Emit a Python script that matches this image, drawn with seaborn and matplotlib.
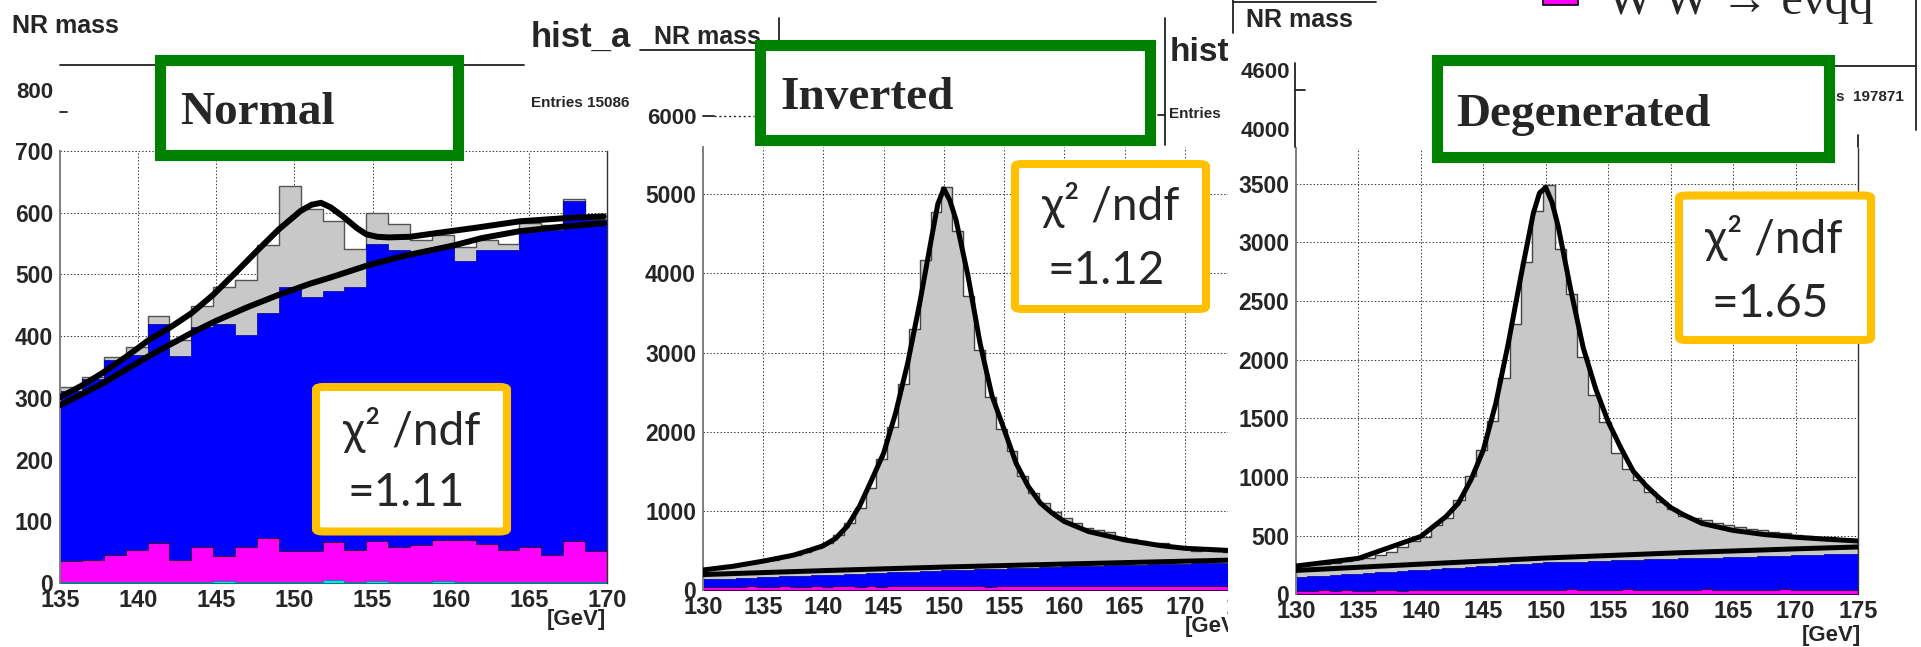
import numpy as np
import pandas as pd
import matplotlib
matplotlib.use("Agg")
import matplotlib.pyplot as plt
import seaborn as sns
from matplotlib.patches import Rectangle, FancyBboxPatch
from matplotlib.lines import Line2D
from matplotlib.ticker import MultipleLocator

W, H = 1921, 647

# ---------------- data ----------------
# "Normal": 25 bins of 1.4 GeV, stacked tops (gray total, blue bkg, magenta WW, cyan)
normal_range = (135, 170)
normal_width = 1.4
normal_total = [318, 333, 367, 383, 433, 394, 449, 479, 491, 547, 644, 606, 587,
                542, 600, 581, 556, 564, 545, 555, 550, 583, 580, 623, 590]
normal_bkg = [311, 331, 361, 370, 420, 368, 415, 420, 402, 437, 479, 464, 473,
              479, 549, 540, 535, 545, 522, 540, 540, 576, 572, 619, 588]
normal_ww = [35, 38, 46, 54, 65, 37, 59, 43, 59, 73, 52, 52, 67,
             53, 68, 58, 61, 69, 69, 64, 53, 58, 46, 68, 52]
normal_z = [2, 2, 2, 2, 2, 2, 2, 3, 2, 2, 2, 2, 5, 2, 3, 2, 2, 3, 2, 2, 2, 2, 2, 2, 2]

normal_fit_x = [135, 136.4, 137.7, 139.2, 140.7, 142.1, 143.4, 144.8, 146.2, 147.6, 149,
                150.4, 151.1, 151.7, 152.3, 153.1, 154, 154.6, 155.3, 156, 157.4,
                158.8, 161.7, 164.4, 167.2, 169.8]
normal_fit_y = [301, 320, 340, 366, 394, 415, 437, 467, 502, 538, 573,
                603, 613, 616, 609, 594, 575, 565, 561, 560, 561,
                566, 576, 586, 591, 594]
normal_bfit_x = [135, 137.7, 140.7, 143.4, 145, 147, 149, 151, 152.3, 154.6, 157,
                 160.2, 162, 164.4, 167, 169.8]
normal_bfit_y = [288, 323, 368, 405, 425, 447, 467, 485, 495, 514, 530,
                 547, 559, 570, 577, 583]

# "Inverted": 50 bins of 0.9 GeV
inv_range = (130, 175)
inv_width = 0.9
inv_total = [255, 275, 290, 315, 335, 365, 385, 420, 445, 480, 530, 590, 700,
             850, 1040, 1290, 1660, 2060, 2600, 3300, 4170, 4770, 5090, 4540,
             3720, 3030, 2440, 2030, 1760, 1440, 1225, 1105, 990, 905, 845, 780,
             760, 735, 675, 640, 615, 590, 600, 550, 525, 490, 505, 495, 485, 470]
inv_bkg = [135, 141, 144, 149, 154, 161, 164, 172, 174, 179, 185, 189, 193, 200,
           206, 211, 216, 225, 226, 233, 237, 244, 250, 253, 259, 265, 268, 270,
           276, 279, 281, 288, 292, 297, 300, 305, 307, 311, 316, 318, 320, 324,
           327, 330, 331, 336, 338, 341, 343, 345]
inv_ww = [42, 40, 44, 41, 45, 43, 40, 46, 44, 42, 47, 44, 45, 48, 43, 46, 44, 47,
          49, 45, 46, 50, 47, 45, 48, 46, 44, 49, 47, 52, 46, 48, 45, 50, 47, 49,
          53, 46, 48, 51, 47, 49, 46, 52, 48, 45, 50, 47, 49, 46]
inv_fit_x = [130, 132.5, 135, 137.5, 139, 140, 141, 142, 143, 144, 145, 146, 147,
             148, 149, 149.5, 150, 150.5, 151, 152, 153, 154, 155, 156, 157, 158,
             159, 160, 162, 165, 168, 170, 175]
inv_fit_y = [253, 300, 365, 440, 510, 560, 650, 810, 1060, 1390, 1730, 2240, 2870,
             3630, 4470, 4880, 5070, 4920, 4680, 3970, 3120, 2450, 2030, 1600,
             1310, 1100, 970, 865, 739, 633, 561, 527, 490]
inv_bfit_x = [130, 140, 150, 160, 170, 175]
inv_bfit_y = [195, 245, 290, 328, 364, 382]

# "Degenerated": 50 bins of 0.9 GeV
deg_range = (130, 175)
deg_width = 0.9
deg_total = [245, 255, 262, 270, 282, 300, 312, 335, 360, 400, 455, 490, 590,
             650, 800, 1010, 1230, 1475, 1840, 2300, 2830, 3270, 3490, 2940,
             2555, 2020, 1700, 1470, 1205, 1065, 975, 870, 785, 730, 670, 650,
             635, 610, 590, 575, 555, 545, 535, 520, 505, 500, 480, 490, 470, 465]
deg_bkg = [151, 156, 160, 168, 172, 178, 183, 190, 193, 200, 205, 211, 216, 222,
           228, 232, 240, 244, 250, 256, 260, 268, 273, 275, 279, 280, 285, 287,
           290, 293, 296, 298, 302, 304, 307, 309, 312, 314, 318, 320, 322, 326,
           327, 330, 333, 335, 337, 340, 342, 344]
deg_ww = [32, 30, 34, 31, 35, 33, 30, 36, 34, 32, 37, 34, 35, 40, 38, 36, 34, 37,
          39, 35, 36, 40, 37, 35, 45, 36, 34, 39, 37, 42, 36, 38, 35, 40, 37, 39,
          43, 36, 38, 41, 37, 39, 36, 42, 38, 35, 40, 37, 39, 36]
deg_fit_x = [130, 135, 140, 142, 143, 144, 145, 146, 147, 148, 149, 149.5, 150,
             150.5, 151, 152, 153, 154, 155, 156, 157, 158, 159, 160, 161, 162.5,
             165, 167.5, 170, 172.5, 175]
deg_fit_y = [242, 307, 494, 662, 776, 974, 1230, 1628, 2139, 2707, 3246, 3420,
             3465, 3340, 3132, 2593, 2100, 1750, 1470, 1250, 1050, 930, 830, 740,
             680, 605, 545, 510, 487, 470, 455]
deg_bfit_x = [130, 140, 150, 160, 170, 175]
deg_bfit_y = [204, 258, 310, 352, 388, 404]

titles = ["Normal", "Inverted", "Degenerated"]
chi2_values = ["=1.11", "=1.12", "=1.65"]

# ---------------- style ----------------
sns.set_style("white")
plt.rcParams["font.family"] = ["Liberation Sans", "DejaVu Sans"]
plt.rcParams["font.weight"] = "bold"

GRAY, BLUE, MAG, CYAN = "#c8c8c8", "#0000ff", "#ff00ff", "#00e5e5"


def fx(x):
    return x / W


def fy(y):
    return 1 - y / H


def add_axes(left, right, top, bottom, z):
    ax = fig.add_axes([fx(left), fy(bottom), (right - left) / W, (bottom - top) / H])
    ax.set_zorder(z)
    return ax


def stack(ax, rng, width, tops, color, ec, lw):
    centers = rng[0] + width * (np.arange(len(tops)) + 0.5)
    df = pd.DataFrame({"mass": centers, "entries": tops})
    sns.histplot(data=df, x="mass", weights="entries", binwidth=width, binrange=rng,
                 element="step", fill=True, color=color, edgecolor=ec, linewidth=lw,
                 alpha=1, ax=ax)


def fit(ax, xs, ys, lw):
    sns.lineplot(x=xs, y=ys, ax=ax, color="black", linewidth=lw,
                 solid_capstyle="round", zorder=4)


def style(ax, xlim, ylim, ymaj, ymin, right_spine=True):
    ax.set_xlim(*xlim)
    ax.set_ylim(*ylim)
    ax.xaxis.set_major_locator(MultipleLocator(5))
    ax.yaxis.set_major_locator(MultipleLocator(ymaj))
    ax.yaxis.set_minor_locator(MultipleLocator(ymin))
    ax.grid(True, which="major", color="#3a3a3a", linestyle=(0, (1.5, 2)), linewidth=0.7)
    ax.set_axisbelow(True)
    ax.tick_params(axis="y", which="major", direction="in", length=13.5, width=1.1,
                   color="#7a7a7a", pad=5, labelsize=16.5)
    ax.tick_params(axis="y", which="minor", direction="in", length=5.8, width=1.1,
                   color="#7a7a7a")
    ax.tick_params(axis="x", length=0, pad=4, labelsize=17)
    ax.set_xlabel("")
    ax.set_ylabel("")
    ax.spines["top"].set_visible(False)
    ax.spines["bottom"].set_visible(False)
    ax.spines["left"].set_color("#808080")
    ax.spines["left"].set_linewidth(1.4)
    ax.spines["right"].set_visible(right_spine)
    ax.spines["right"].set_color("#333333")
    ax.spines["right"].set_linewidth(1.0)


def hline(x0, x1, y, z, color="#222222", lw=1.3, ls="-"):
    fig.add_artist(Line2D([fx(x0), fx(x1)], [fy(y), fy(y)], transform=fig.transFigure,
                          color=color, lw=lw, ls=ls, zorder=z))


def vline(x, y0, y1, z, color="#222222", lw=1.3):
    fig.add_artist(Line2D([fx(x), fx(x)], [fy(y0), fy(y1)], transform=fig.transFigure,
                          color=color, lw=lw, zorder=z))


def ftext(x, y, s, z, size, ha="left", **kw):
    fig.text(fx(x), fy(y), s, fontsize=size, ha=ha, va="baseline", zorder=z, **kw)


fig = plt.figure(figsize=(W / 100, H / 100), dpi=100)
fig.patch.set_facecolor("white")

# ---------------- panel 1: Normal ----------------
ax1 = add_axes(60, 607, 151, 583, 0.2)
stack(ax1, normal_range, normal_width, normal_total, GRAY, "#555555", 1.0)
stack(ax1, normal_range, normal_width, normal_bkg, BLUE, "#00008b", 0.5)
stack(ax1, normal_range, normal_width, normal_ww, MAG, "#400040", 0.8)
stack(ax1, normal_range, normal_width, normal_z, CYAN, "#008080", 0.5)
fit(ax1, normal_fit_x, normal_fit_y, 4.3)
fit(ax1, normal_bfit_x, normal_bfit_y, 4.3)
style(ax1, normal_range, (0, 700), 100, 20)
ftext(606, 625, "[GeV]", 0.3, 16, ha="right")

# header clutter of the first canvas
ftext(12, 33, "NR mass", 0.3, 18)
hline(60, 524, 65, 0.3)
ftext(53, 98, "800", 0.3, 16, ha="right")
hline(60, 67, 112, 0.3)
ftext(531, 47, "hist_a", 0.3, 25)
ftext(531, 107, "Entries 15086", 0.3, 11)

# the second canvas covers the first one from here on
fig.add_artist(Rectangle((fx(640), 0), fx(1228) - fx(640), 1, transform=fig.transFigure,
                         facecolor="white", edgecolor="none", zorder=0.5))

# ---------------- panel 2: Inverted ----------------
ax2 = add_axes(703, 1245, 146.8, 590, 1)
stack(ax2, inv_range, inv_width, inv_total, GRAY, "#444444", 1.0)
stack(ax2, inv_range, inv_width, inv_bkg, BLUE, "#00008b", 0.5)
stack(ax2, inv_range, inv_width, inv_ww, MAG, "#400040", 0.8)
fit(ax2, inv_fit_x, inv_fit_y, 3.6)
fit(ax2, inv_bfit_x, inv_bfit_y, 3.6)
style(ax2, inv_range, (0, 5600), 1000, 200, right_spine=False)
ftext(1244, 632, "[GeV]", 1.1, 16, ha="right")

ftext(654, 44, "NR mass", 1.2, 18)
hline(640, 779, 50, 1.2)
vline(779, 18, 50, 1.2)
ftext(697, 124, "6000", 1.2, 16, ha="right")
hline(703, 714, 116, 1.2)
hline(714, 754, 116, 1.2, lw=1.0, ls=(0, (1.5, 2)))
vline(1164.5, 18, 145, 1.2)
hline(1158, 1164.5, 115, 1.2)
ftext(1170, 61, "hist", 1.2, 24)
ftext(1169, 118, "Entries", 1.2, 11)

# the third canvas covers the second one from here on
fig.add_artist(Rectangle((fx(1228), 0), 1 - fx(1228), 1, transform=fig.transFigure,
                         facecolor="white", edgecolor="none", zorder=2))

# ---------------- panel 3: Degenerated ----------------
ax3 = add_axes(1296, 1858, 148.3, 594.4, 3)
stack(ax3, deg_range, deg_width, deg_total, GRAY, "#444444", 1.0)
stack(ax3, deg_range, deg_width, deg_bkg, BLUE, "#00008b", 0.5)
stack(ax3, deg_range, deg_width, deg_ww, MAG, "#400040", 0.8)
fit(ax3, deg_fit_x, deg_fit_y, 3.6)
fit(ax3, deg_bfit_x, deg_bfit_y, 3.6)
style(ax3, deg_range, (0, 3800), 500, 100)
ftext(1861, 641, "[GeV]", 3.5, 16, ha="right")

vline(1233, 0, 33, 3.5)
hline(1233, 1376, 2, 3.5)
ftext(1246, 27, "NR mass", 3.5, 18)
ftext(1290, 78, "4600", 3.5, 16, ha="right")
ftext(1290, 137, "4000", 3.5, 16, ha="right")
vline(1295, 63, 147, 3.5)
hline(1295, 1305, 90, 3.5)
hline(1831, 1916, 66, 3.5)
vline(1916, 0, 130, 3.5)
vline(1858, 135, 147, 3.5)
ftext(1836, 101, "s  197871", 3.5, 11)

# legend fragment cut by the top edge
fig.add_artist(Rectangle((fx(1543), fy(5)), fx(35), 5 / H + 0.01, transform=fig.transFigure,
                         facecolor=MAG, edgecolor="black", lw=1.2, zorder=3.6))
ftext(1607, 13.5, "W W \u2192 e\u03bdqq", 3.6, 35, weight="normal",
      family=["Liberation Serif", "DejaVu Serif"])

# ---------------- annotation boxes ----------------
green_boxes = [(159.5, 59.5, 458.5, 154.5, 180, 124.5),
               (759.5, 45, 1150, 139.5, 780, 109),
               (1436.5, 60, 1829.5, 156.5, 1456, 125.6)]
for (x0, y0, x1, y1, tx, ty), title in zip(green_boxes, titles):
    fig.add_artist(Rectangle((fx(x0), fy(y1)), fx(x1) - fx(x0), fy(y0) - fy(y1),
                             transform=fig.transFigure, facecolor="white",
                             edgecolor="#008000", lw=8, zorder=5))
    ftext(tx, ty, title, 6, 34, family=["Liberation Serif", "DejaVu Serif"])

orange_boxes = [(316, 387, 507, 531.5, 412, 445, 406, 506),
                (1015, 164, 1206, 309, 1111, 220, 1106, 284),
                (1679, 195.5, 1871, 340, 1774, 253, 1770, 317)]
for (x0, y0, x1, y1, c1, b1, c2, b2), val in zip(orange_boxes, chi2_values):
    fig.add_artist(FancyBboxPatch((fx(x0), fy(y1)), fx(x1) - fx(x0), fy(y0) - fy(y1),
                                  boxstyle="round,pad=0,rounding_size=0.004",
                                  transform=fig.transFigure, facecolor="white",
                                  edgecolor="#ffc000", lw=5.8, zorder=5))
    ftext(c1, b1, "\u03c7\u00b2 /ndf", 6, 33, ha="center", weight="normal",
          family=["Lato", "DejaVu Serif"])
    ftext(c2, b2, val, 6, 33, ha="center", weight="normal",
          family=["Lato", "DejaVu Sans"])

fig.savefig("out.png", dpi=100, facecolor="white")
